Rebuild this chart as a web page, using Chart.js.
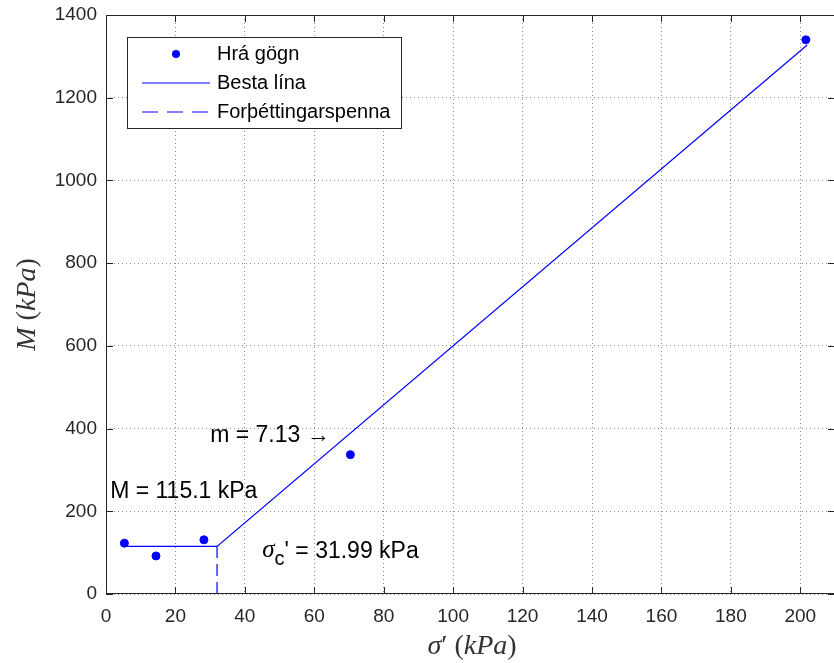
<!DOCTYPE html>
<html>
<head>
<meta charset="utf-8">
<script src="https://cdn.jsdelivr.net/npm/chart.js@4.4.0/dist/chart.umd.min.js"></script>
<style>
  html, body { margin: 0; padding: 0; background: #fff; overflow: hidden; }
  /* a little wider than the window: the right side of the axes box falls just off-screen, like the original */
  #wrap { width: 840px; height: 663px; position: relative; }
</style>
</head>
<body>
<div id="wrap"><canvas id="chart"></canvas></div>
<script>
// raw data (sigma' in kPa, M in kPa)
const sigmaRaw = [5.3, 14.4, 28.2, 70.4, 201.6];
const mRaw = [123, 92, 131, 337, 1340];

// best fit line: flat at M = 115.1 up to sigma_c, then slope 7.13
const fitX = [5.5, 31.99, 202];
const fitY = [115.1, 115.1, 1327.3];

// preconsolidation stress marker
const precX = [31.99, 31.99];
const precY = [0, 115.1];

const xTicks = [0, 20, 40, 60, 80, 100, 120, 140, 160, 180, 200];
const yTicks = [0, 200, 400, 600, 800, 1000, 1200, 1400];

const legendNames = ['Hrá gögn', 'Besta lína', 'Forþéttingarspenna'];

// text notes placed at data coordinates (left edge, vertical middle)
const notes = [
  { text: 'M = 115.1 kPa', x: 1.2, y: 247 },
  { text: 'm = 7.13 \u2192', x: 30.0, y: 382 },
];
const sigmaNote = { x: 45.0, y: 101.6, value: '31.99 kPa' };

const blue = '#0000ff';
const sans = '"Liberation Sans", Arial, sans-serif';
const serif = '"Liberation Serif", "Times New Roman", serif';

const toXY = (xs, ys) => xs.map((x, i) => ({ x, y: ys[i] }));

// draw a run of [text, font] pieces starting at x (left), returns total width
const drawRun = (ctx, parts, x, y, measureOnly) => {
  let w = 0;
  parts.forEach(([t, f]) => {
    ctx.font = f;
    if (!measureOnly) ctx.fillText(t, x + w, y);
    w += ctx.measureText(t).width;
  });
  return w;
};

// frame, inward tick marks, axis titles, legend box and notes
const decor = {
  id: 'decor',
  afterDraw(chart) {
    const { ctx, chartArea: a, scales: { x, y } } = chart;
    ctx.save();

    // frame
    ctx.strokeStyle = '#262626';
    ctx.lineWidth = 1;
    ctx.strokeRect(a.left + 0.5, a.top + 0.5, a.right - a.left - 1, a.bottom - a.top - 1);

    // inward ticks
    ctx.beginPath();
    const tl = 7;
    xTicks.forEach((v) => {
      const px = Math.round(x.getPixelForValue(v)) + 0.5;
      ctx.moveTo(px, a.bottom); ctx.lineTo(px, a.bottom - tl);
      ctx.moveTo(px, a.top); ctx.lineTo(px, a.top + tl);
    });
    yTicks.forEach((v) => {
      const py = Math.round(y.getPixelForValue(v)) + 0.5;
      ctx.moveTo(a.left, py); ctx.lineTo(a.left + tl, py);
      ctx.moveTo(a.right, py); ctx.lineTo(a.right - tl, py);
    });
    ctx.stroke();

    // axis titles, math style: italic letters, upright brackets
    const it = 'italic 28px ' + serif;
    const up = '28px ' + serif;
    ctx.fillStyle = '#333';
    ctx.textBaseline = 'middle';
    ctx.textAlign = 'left';
    const xt = [['\u03c3', it], ['\u2032 ', up], ['(', up], ['kPa', it], [')', up]];
    const xw = drawRun(ctx, xt, 0, 0, true);
    drawRun(ctx, xt, 472 - xw / 2, 647);
    const yt = [['M', it], [' (', up], ['kPa', it], [')', up]];
    const yw = drawRun(ctx, yt, 0, 0, true);
    ctx.save();
    ctx.translate(28, (a.top + a.bottom) / 2);
    ctx.rotate(-Math.PI / 2);
    drawRun(ctx, yt, -yw / 2, 0);
    ctx.restore();

    // legend
    const lx = 127, ly = 37, lw = 274, lh = 91;
    ctx.fillStyle = '#fff';
    ctx.fillRect(lx, ly, lw, lh);
    ctx.strokeStyle = '#262626';
    ctx.strokeRect(lx + 0.5, ly + 0.5, lw, lh);

    const rows = [54, 83, 112];
    ctx.fillStyle = blue;
    ctx.beginPath();
    ctx.arc(176, rows[0], 4, 0, Math.PI * 2);
    ctx.fill();

    ctx.strokeStyle = blue;
    ctx.lineWidth = 1.2;
    ctx.beginPath();
    ctx.moveTo(142, rows[1]); ctx.lineTo(210, rows[1]);
    ctx.stroke();
    ctx.setLineDash([16, 9]);
    ctx.beginPath();
    ctx.moveTo(142, rows[2]); ctx.lineTo(210, rows[2]);
    ctx.stroke();
    ctx.setLineDash([]);

    ctx.fillStyle = '#000';
    ctx.font = '20px ' + sans;
    legendNames.forEach((n, i) => ctx.fillText(n, 217, rows[i]));

    // notes
    ctx.font = '23px ' + sans;
    notes.forEach((n) => {
      ctx.fillText(n.text, x.getPixelForValue(n.x), y.getPixelForValue(n.y));
    });

    // sigma_c' note with subscript
    let sx = x.getPixelForValue(sigmaNote.x);
    const sy = y.getPixelForValue(sigmaNote.y);
    sx += drawRun(ctx, [['\u03c3', 'italic 25px ' + serif]], sx, sy - 2);
    sx += drawRun(ctx, [['c', '20px ' + sans]], sx, sy + 8);
    drawRun(ctx, [["' = " + sigmaNote.value, '23px ' + sans]], sx, sy);

    ctx.restore();
  },
};

new Chart(document.getElementById('chart'), {
  type: 'scatter',
  data: {
    datasets: [
      {
        label: legendNames[0],
        data: toXY(sigmaRaw, mRaw),
        backgroundColor: blue,
        borderColor: blue,
        pointRadius: 4,
        showLine: false,
      },
      {
        label: legendNames[1],
        data: toXY(fitX, fitY),
        borderColor: blue,
        borderWidth: 1.2,
        pointRadius: 0,
        showLine: true,
      },
      {
        label: legendNames[2],
        data: toXY(precX, precY),
        borderColor: blue,
        borderWidth: 1.2,
        borderDash: [12, 6],
        pointRadius: 0,
        showLine: true,
      },
    ],
  },
  options: {
    responsive: true,
    maintainAspectRatio: false,
    animation: false,
    layout: { padding: { top: 15, right: 0, left: 0, bottom: 0 } },
    plugins: { legend: { display: false }, tooltip: { enabled: false } },
    scales: {
      x: {
        type: 'linear',
        min: 0,
        max: 210,
        afterBuildTicks: (s) => { s.ticks = xTicks.map((v) => ({ value: v })); },
        afterFit: (s) => { s.height = 69; s.paddingLeft = 0; s.paddingRight = 0; },
        grid: { color: '#8c8c8c', drawTicks: false },
        border: { display: false, dash: [1, 3] },
        ticks: { color: '#262626', font: { family: sans, size: 19 }, padding: 11, maxRotation: 0, callback: (v) => String(v) },
      },
      y: {
        type: 'linear',
        min: 0,
        max: 1400,
        afterBuildTicks: (s) => { s.ticks = yTicks.map((v) => ({ value: v })); },
        afterFit: (s) => { s.width = 106; s.paddingTop = 0; s.paddingBottom = 0; },
        grid: { color: '#8c8c8c', drawTicks: false },
        border: { display: false, dash: [1, 3] },
        ticks: { color: '#262626', font: { family: sans, size: 19 }, padding: 9, callback: (v) => String(v) },
      },
    },
  },
  plugins: [decor],
});
</script>
</body>
</html>
